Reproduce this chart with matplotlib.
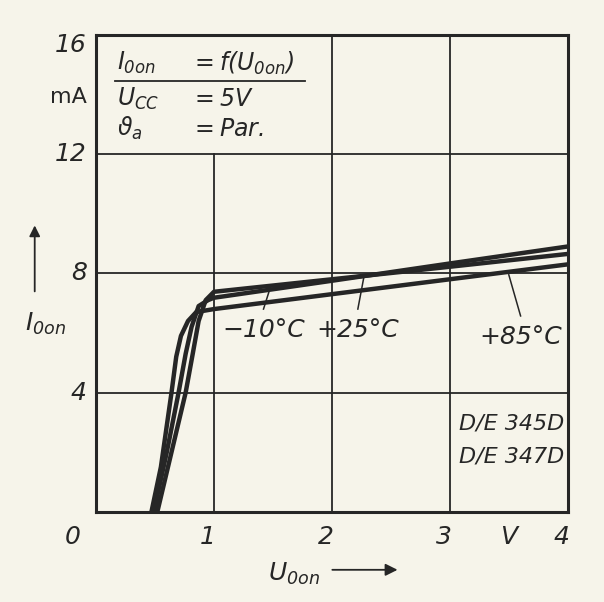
#=======================#
# Libraries importation #
#=======================#

import matplotlib.pyplot as plt
import numpy as np

#==================#
# Global variables #
#==================#

PAPER = "#f6f4ea"
INK = "#262626"
plt.rcParams['font.family'] = ['DejaVu Sans']
plt.rcParams['mathtext.fontset'] = 'custom'
plt.rcParams['mathtext.it'] = 'DejaVu Sans:italic'
plt.rcParams['mathtext.rm'] = 'DejaVu Sans:italic'

# Output voltage U_0on (V) and output current I_0on (mA)
u_m10 = [0.52, 0.64, 0.76, 0.82, 0.87, 0.93, 1.0, 2.0, 3.0, 4.0]
i_m10 = [0.0, 2.0, 4.0, 5.3, 6.4, 7.1, 7.38, 7.80, 8.22, 8.65]
u_p25 = [0.49, 0.60, 0.70, 0.76, 0.81, 0.87, 0.95, 1.0, 2.0, 3.0, 4.0]
i_p25 = [0.0, 2.0, 4.0, 5.3, 6.2, 6.9, 7.1, 7.18, 7.75, 8.33, 8.9]
u_p85 = [0.47, 0.55, 0.64, 0.68, 0.72, 0.78, 0.85, 1.0, 2.0, 3.0, 4.0]
i_p85 = [0.0, 1.5, 4.0, 5.2, 5.9, 6.4, 6.7, 6.8, 7.3, 7.8, 8.3]

x_ticks = [0, 1, 2, 3, 4]
y_ticks = [4, 8, 12, 16]

# temperature labels: text, label position, leader end
temp_labels = ["\u221210\u00b0C", "+25\u00b0C", "+85\u00b0C"]
temp_text_xy = [(1.42, 6.1), (2.22, 6.1), (3.6, 5.87)]
temp_lead_xy = [(1.48, 7.55), (2.27, 7.85), (3.5, 7.95)]

#==========#
# Plotting #
#==========#

fig = plt.figure(figsize=(6.04, 6.02), dpi=100, facecolor=PAPER)
ax = fig.add_axes([0.159, 0.150, 0.781, 0.792])
ax.set_facecolor(PAPER)
ax.set_xlim(0, 4)
ax.set_ylim(0, 16)
ax.set_xticks([])
ax.set_yticks([])
for s in ax.spines.values():
    s.set_linewidth(2.2)
    s.set_color(INK)

# grid (the 1 V line stops under the text block)
for xv in x_ticks[1:-1]:
    top = 12 if xv == 1 else 16
    ax.plot([xv, xv], [0, top], color=INK, lw=1.3, zorder=1)
for yv in y_ticks[:-1]:
    ax.plot([0, 4], [yv, yv], color=INK, lw=1.3, zorder=1)

for u, i in [(u_m10, i_m10), (u_p25, i_p25), (u_p85, i_p85)]:
    ax.plot(u, i, color=INK, lw=3.2, solid_capstyle='butt', zorder=3)

fs = 18
for txt, (tx, ty), (lx, ly) in zip(temp_labels, temp_text_xy, temp_lead_xy):
    ax.text(tx, ty, txt, fontsize=fs, style='italic', ha='center', va='center', color=INK)
    ax.plot([tx, lx], [ty + 0.7, ly], color=INK, lw=1.1, zorder=2)

# tick labels
for xv, lab in zip([-0.2, 0.95, 1.95, 2.95, 3.5, 3.95], ["0", "1", "2", "3", "V", "4"]):
    ax.text(xv, -0.85, lab, fontsize=fs, style='italic', ha='center', va='center',
            color=INK, clip_on=False)
for yv, lab in zip([15.67, 12.0, 8.0, 4.0], ["16", "12", "8", "4"]):
    ax.text(-0.08, yv, lab, fontsize=fs, style='italic', ha='right', va='center',
            color=INK, clip_on=False)
ax.text(-0.08, 13.9, "mA", fontsize=16, ha='right', va='center', color=INK, clip_on=False)

# axis names with arrows
ax.text(-0.43, 6.3, "$I_{0on}$", fontsize=fs, ha='center', va='center', color=INK, clip_on=False)
ax.annotate("", xy=(-0.52, 9.7), xytext=(-0.52, 7.3), xycoords='data',
            arrowprops=dict(arrowstyle='-|>', color=INK, lw=1.3, mutation_scale=16),
            annotation_clip=False)
ax.text(1.68, -2.1, "$U_{0on}$", fontsize=fs, ha='center', va='center', color=INK, clip_on=False)
ax.annotate("", xy=(2.58, -1.95), xytext=(1.98, -1.95), xycoords='data',
            arrowprops=dict(arrowstyle='-|>', color=INK, lw=1.3, mutation_scale=18),
            annotation_clip=False)

# condition block
bs = 17
ax.text(0.18, 15.05, "$I_{0on}$", fontsize=bs, ha='left', va='center', color=INK)
ax.text(0.80, 15.05, "$=f(U_{0on})$", fontsize=bs, ha='left', va='center', color=INK)
ax.plot([0.16, 1.77], [14.45, 14.45], color=INK, lw=1.3)
ax.text(0.18, 13.85, "$U_{CC}$", fontsize=bs, ha='left', va='center', color=INK)
ax.text(0.80, 13.85, "$=5V$", fontsize=bs, ha='left', va='center', color=INK)
ax.text(0.18, 12.85, "$\\vartheta_a$", fontsize=bs, ha='left', va='center', color=INK)
ax.text(0.80, 12.85, "$=Par.$", fontsize=bs, ha='left', va='center', color=INK)

# type designations
ax.text(3.97, 2.95, "D/E 345D", fontsize=16, style='italic', ha='right', va='center', color=INK)
ax.text(3.97, 1.85, "D/E 347D", fontsize=16, style='italic', ha='right', va='center', color=INK)

fig.savefig("out.png", dpi=100, facecolor=PAPER)
